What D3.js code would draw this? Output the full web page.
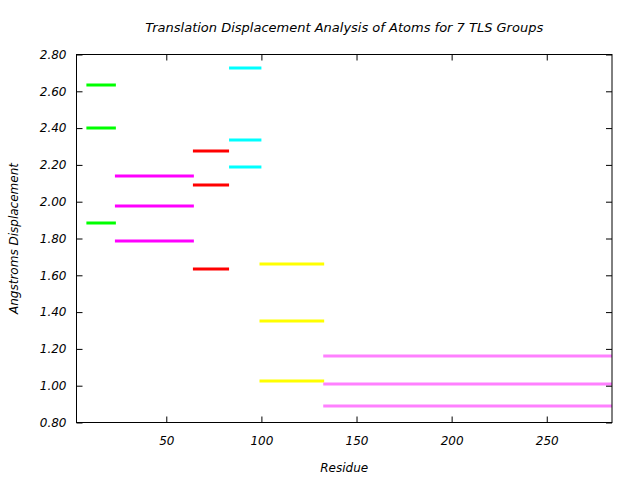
<!DOCTYPE html>
<html><head><meta charset="utf-8">
<script src="https://cdn.jsdelivr.net/npm/d3@7"></script>
<style>body{margin:0;background:#fff}svg{display:block}text{font-family:"DejaVu Sans",sans-serif;font-style:italic;fill:#000}</style>
</head><body>
<script>
const groupColors = ["#00ff00","#ff00ff","#ff0000","#00ffff","#ffff00","#ff80ff"];
const groupStart = [8, 23, 64, 83, 99, 132.5];
const groupEnd   = [23.5, 64.5, 83, 100, 133, 284.3];
const groupValues = [
  [2.632, 2.398, 1.882],
  [2.142, 1.974, 1.784],
  [2.278, 2.093, 1.632],
  [2.724, 2.333, 2.186],
  [1.659, 1.354, 1.028],
  [1.164, 1.007, 0.892]
];
const xTicks = [50, 100, 150, 200, 250];
const yTicks = [0.8,1.0,1.2,1.4,1.6,1.8,2.0,2.2,2.4,2.6,2.8];
const titleText = "Translation Displacement Analysis of Atoms for 7 TLS Groups";

const W=640,H=480, L=76.5, R=612, T=54.5, B=422.5;
const svg=d3.select("body").append("svg").attr("width",W).attr("height",H);
const x=d3.scaleLinear().domain([2.8,284.3]).range([L,R]);
const y=d3.scaleLinear().domain([0.8,2.8]).range([B,T]);

const segs=[];
groupValues.forEach((vals,i)=>vals.forEach(v=>segs.push({x0:groupStart[i],x1:groupEnd[i],v,c:groupColors[i]})));
svg.append("g").selectAll("line").data(segs).join("line")
  .attr("x1",d=>x(d.x0)).attr("x2",d=>Math.min(x(d.x1),R)).attr("y1",d=>Math.round(y(d.v))).attr("y2",d=>Math.round(y(d.v)))
  .attr("stroke",d=>d.c).attr("stroke-width",3);

// frame
svg.append("rect").attr("x",L).attr("y",T).attr("width",R-L).attr("height",B-T).attr("fill","none").attr("stroke","#000").attr("stroke-width",1);

// axes with inward ticks
const ax=svg.append("g").attr("transform",`translate(0,${B})`).call(d3.axisBottom(x).tickValues(xTicks).tickSize(-6).tickPadding(14).tickFormat(d3.format("d")));
const axTop=svg.append("g").attr("transform",`translate(0,${T})`).call(d3.axisTop(x).tickValues(xTicks).tickSize(-6).tickFormat(""));
const ay=svg.append("g").attr("transform",`translate(${L},0)`).call(d3.axisLeft(y).tickValues(yTicks).tickSize(-6).tickPadding(10).tickFormat(d3.format(".2f")));
const ayR=svg.append("g").attr("transform",`translate(${R},0)`).call(d3.axisRight(y).tickValues(yTicks).tickSize(-6).tickFormat(""));
[ax,axTop,ay,ayR].forEach(g=>{g.select(".domain").remove();g.selectAll("line").attr("stroke","#000");g.selectAll("text").attr("font-family","DejaVu Sans").attr("font-style","italic").attr("font-size",12).attr("fill","#000");});

svg.append("text").attr("x",(L+R)/2).attr("y",32).attr("text-anchor","middle").attr("font-size",13).text(titleText);
svg.append("text").attr("x",(L+R)/2).attr("y",472).attr("text-anchor","middle").attr("font-size",12).text("Residue");
svg.append("text").attr("transform",`translate(18,${(T+B)/2}) rotate(-90)`).attr("text-anchor","middle").attr("font-size",12).text("Angstroms Displacement");
</script>
</body></html>
